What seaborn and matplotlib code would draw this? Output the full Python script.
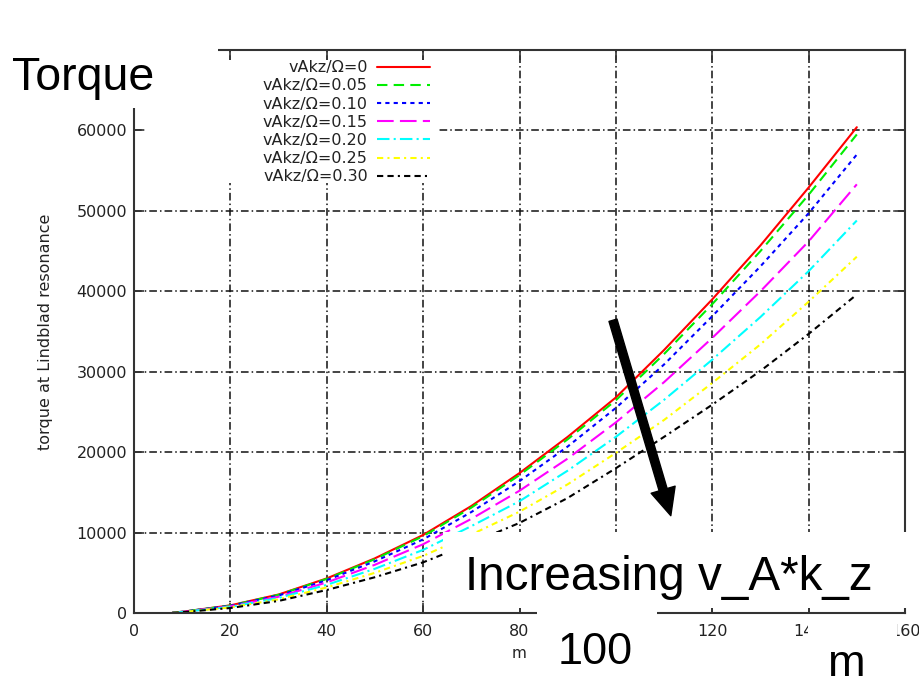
import matplotlib
matplotlib.use('Agg')
import matplotlib.pyplot as plt
from matplotlib.patches import Rectangle
import seaborn as sns

# Data
m_vals = [8, 10, 20, 30, 40, 50, 60, 70, 80, 90, 100, 110, 120, 130, 140, 150]
torque_0 = [50, 150, 950, 2300, 4300, 6800, 9700, 13300, 17400, 21900, 26800, 32700, 39000, 45700, 52900, 60400]
torque_005 = [50, 150, 930, 2260, 4240, 6700, 9550, 13100, 17150, 21600, 26450, 32200, 38400, 45000, 52000, 59500]
torque_010 = [45, 140, 890, 2170, 4080, 6430, 9150, 12550, 16400, 20700, 25500, 30900, 36900, 43100, 49700, 57000]
torque_015 = [40, 130, 830, 2020, 3800, 6000, 8550, 11700, 15200, 19200, 23700, 28700, 34200, 40000, 46200, 53300]
torque_020 = [35, 120, 770, 1870, 3500, 5500, 7850, 10800, 13900, 17700, 21900, 26500, 31500, 36800, 42500, 48800]
torque_025 = [30, 110, 700, 1700, 3180, 5000, 7100, 9750, 12600, 16000, 19900, 24000, 28600, 33400, 38700, 44300]
torque_030 = [25, 100, 620, 1500, 2860, 4450, 6300, 8700, 11200, 14300, 18000, 21900, 25900, 30100, 34700, 39600]

labels = ['vAkz/Ω=0', 'vAkz/Ω=0.05', 'vAkz/Ω=0.10', 'vAkz/Ω=0.15',
          'vAkz/Ω=0.20', 'vAkz/Ω=0.25', 'vAkz/Ω=0.30']
series = [torque_0, torque_005, torque_010, torque_015, torque_020, torque_025, torque_030]
colors = ['#ff0000', '#00ee00', '#0000ff', '#ff00ff', '#00ffff', '#ffff00', '#000000']
dashes = ['-', (0, (5, 3)), (0, (2, 2)), (0, (8, 3)), (0, (6, 2, 1, 2)),
          (0, (3, 2, 1, 2)), (0, (3, 2, 3, 2, 1, 2))]

x_ticks = list(range(0, 161, 20))
y_ticks = list(range(0, 70001, 10000))

sns.set_style('ticks')
plt.rcParams['font.family'] = ['DejaVu Sans']

W, H = 920, 680
fig, ax = plt.subplots(figsize=(W / 100, H / 100), dpi=100)
fig.subplots_adjust(left=134 / W, right=905 / W, bottom=1 - 613 / H, top=1 - 50 / H)

for vals, lab, col, ls in zip(series, labels, colors, dashes):
    sns.lineplot(x=m_vals, y=vals, color=col, label=lab, linestyle=ls, lw=1.5, ax=ax)

ax.set_xlim(0, 160)
ax.set_ylim(0, 70000)
ax.set_xticks(x_ticks)
ax.set_yticks(y_ticks)
ax.set_axisbelow(True)
ax.grid(True, color='#111111', lw=1.1, linestyle=(0, (5, 2, 1, 2)))
for sp in ax.spines.values():
    sp.set_visible(True)
    sp.set_linewidth(1.5)
    sp.set_color('#333333')
ax.tick_params(direction='in', length=7, width=1.2, top=True, right=True,
               labelsize=11.5, labelcolor='#222222', color='#333333')
ax.tick_params(axis='x', pad=8)
ax.tick_params(axis='y', pad=5)
ax.set_xlabel('m', fontsize=11, color='#222222', labelpad=5)
ax.set_ylabel('torque at Lindblad resonance', fontsize=11.5, color='#222222', labelpad=17)

# white area behind the key (gnuplot style)
ax.add_patch(Rectangle((0.0143, 0.764), 0.379, 0.218, transform=ax.transAxes,
                       facecolor='white', edgecolor='none', zorder=1.5))
leg = ax.legend(loc='upper right', bbox_to_anchor=(0.384, 0.982), frameon=False,
                markerfirst=False, fontsize=11.5, handlelength=3.3, handletextpad=0.6,
                labelspacing=0.2, borderpad=0, borderaxespad=0)
for t in leg.get_texts():
    t.set_color('#222222')

# arrow annotation
ax.annotate('', xy=(111.4, 12100), xytext=(99.4, 36400),
            arrowprops=dict(arrowstyle='simple,head_width=0.6,head_length=0.65,tail_width=0.2',
                            mutation_scale=30, color='black', shrinkA=0, shrinkB=0))


def white_box(x0, y0, x1, y1):
    fig.add_artist(Rectangle((x0 / W, 1 - y1 / H), (x1 - x0) / W, (y1 - y0) / H,
                             transform=fig.transFigure, facecolor='white',
                             edgecolor='none', zorder=2))


def slide_text(x, y, s, size):
    fig.text(x / W, 1 - y / H, s, fontsize=size, family=['Liberation Sans', 'DejaVu Sans'],
             ha='left', va='baseline', color='black', zorder=3)


white_box(0, 0, 218, 108)
white_box(443, 532, 920, 608)
white_box(537, 608, 657, 680)
white_box(808, 616, 897, 680)

slide_text(12, 90, 'Torque', 33.5)
slide_text(465, 590, 'Increasing v_A*k_z', 34.3)
slide_text(558, 664, '100', 32.5)
slide_text(828, 676, 'm', 32.5)

fig.savefig('out.png', dpi=100)
